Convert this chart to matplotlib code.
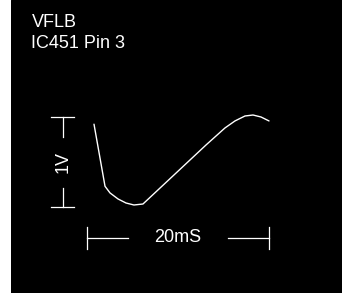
import matplotlib
matplotlib.use('Agg')
import matplotlib.pyplot as plt
import numpy as np

plt.rcParams['font.family'] = ['Liberation Sans', 'DejaVu Sans']

# scope trace, time in ms, level in V
t_ms = [0.77, 1.98, 2.53, 3.41, 4.29, 5.16, 6.15, 13.08, 15.16, 16.26, 17.36, 18.24, 19.12, 20.0]
volts = [0.92, 0.23, 0.156, 0.089, 0.044, 0.022, 0.033, 0.689, 0.878, 0.956, 1.011, 1.022, 1.0, 0.956]

title_lines = ['VFLB', 'IC451 Pin 3']
v_scale = 1.0        # V
t_scale = 20.0       # ms
v_label = '1V'
t_label = '20mS'

W, H = 342, 295
fig = plt.figure(figsize=(W / 100, H / 100), dpi=100, facecolor='white')
ax = fig.add_axes([11 / W, 2 / H, 331 / W, 293 / H])
ax.set_facecolor('black')
ax.set_xlim(-8.35, 28.02)
ax.set_ylim(-0.956, 2.3)
ax.set_axis_off()
ax.add_patch(plt.Rectangle((0, 0), 1, 1, transform=ax.transAxes,
                           color='black', zorder=0))

lw = 0.9
ax.plot(t_ms, volts, color='white', lw=1.0, solid_capstyle='round')

# title
ax.text(-6.1, 2.0, title_lines[0], color='white', fontsize=13, va='baseline')
ax.text(-6.1, 1.767, title_lines[1], color='white', fontsize=13, va='baseline')

# vertical scale bar
xv = -2.64
tick = 1.26
ax.plot([xv, xv], [v_scale, 0.778], color='white', lw=lw)
ax.plot([xv, xv], [0.211, 0], color='white', lw=lw)
ax.plot([xv - tick, xv + tick], [v_scale, v_scale], color='white', lw=lw)
ax.plot([xv - tick, xv + tick], [0, 0], color='white', lw=lw)
ax.text(xv, v_scale / 2, v_label, color='white', fontsize=13, rotation=90,
        ha='center', va='center')

# horizontal scale bar
yh = -0.344
vt = 0.122
ax.plot([0, 4.5], [yh, yh], color='white', lw=lw)
ax.plot([15.5, t_scale], [yh, yh], color='white', lw=lw)
ax.plot([0, 0], [yh - vt, yh + vt], color='white', lw=lw)
ax.plot([t_scale, t_scale], [yh - vt, yh + vt], color='white', lw=lw)
ax.text(t_scale / 2, yh, t_label, color='white', fontsize=13,
        ha='center', va='center')

fig.savefig('out.png', dpi=100, facecolor='white')
